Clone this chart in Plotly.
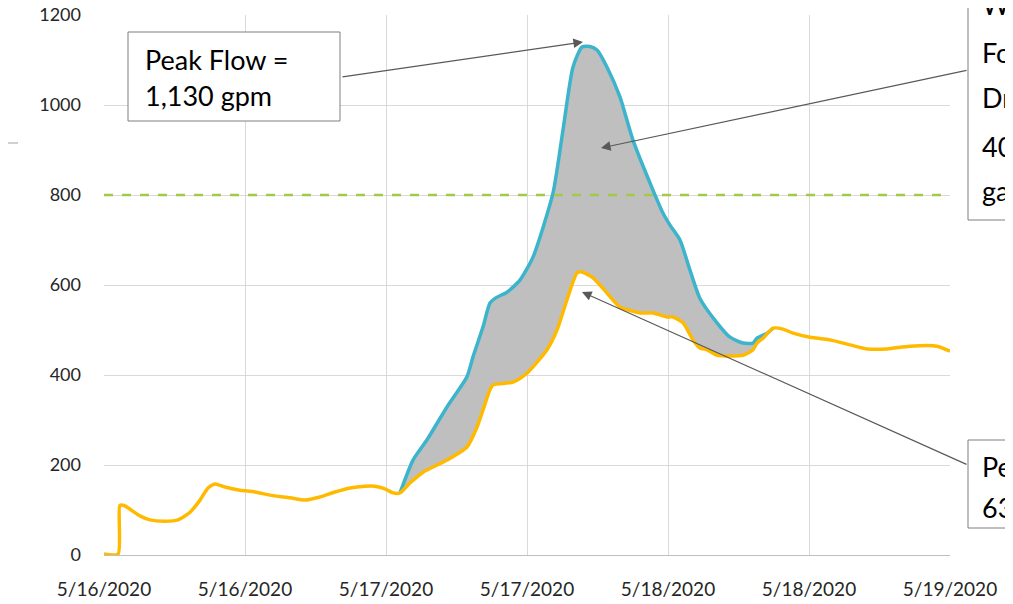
import pandas as pd
import plotly.graph_objects as go

BASE = pd.Timestamp("2020-05-16 00:00")

# Observed flow (yellow): hours since 5/16/2020 00:00, gpm
flow_hours = [0, 1.2, 1.35, 1.7, 3.06, 3.91, 5.19, 6.3, 7.32, 8.17, 8.85, 9.45, 10.3, 11.57,
              12.85, 14.13, 15.83, 17.11, 18.38, 19.66, 20.94, 22.21, 23.06, 23.91, 24.6,
              25.19, 26.04, 27.15, 29.19, 30.89, 31.74, 32.85, 33.11, 34.81, 36.0, 37.7,
              38.55, 39.4, 40.26, 40.68, 41.62, 42.81, 43.91, 45.62, 46.72, 47.91, 48.43,
              49.28, 50.13, 50.72, 51.32, 52.17, 54.38, 55.23, 55.57, 56.09, 56.94, 57.79,
              58.64, 60.09, 61.79, 63.49, 64.94, 66.64, 68.6, 70.89, 72.0]
flow_gpm = [2, 2, 110, 110, 87, 78, 75, 78, 95, 122, 149, 158, 151, 144,
            140, 133, 127, 122, 129, 140, 149, 153, 153, 147, 138,
            138, 160, 184, 211, 240, 284, 367, 378, 384, 404, 456,
            500, 567, 627, 629, 616, 582, 551, 538, 538, 529, 529,
            516, 478, 460, 456, 444, 444, 456, 471, 482, 504, 502,
            493, 484, 478, 467, 458, 458, 464, 464, 453]

# Total flow with wet weather (blue)
wet_hours = [25.19, 26.3, 27.49, 29.19, 30.89, 31.4, 32.26, 32.85, 33.45, 34.3, 35.4,
             36.51, 38.21, 39.06, 39.91, 40.68, 41.36, 41.96, 42.81, 43.91, 45.02, 46.72,
             47.57, 48.17, 49.02, 49.87, 50.72, 52.17, 53.28, 54.38, 55.23, 55.57, 56.43, 56.94]
wet_gpm = [138, 211, 256, 329, 396, 440, 507, 560, 573, 584, 611,
           662, 804, 944, 1084, 1129, 1130, 1122, 1084, 1018, 922, 811,
           760, 733, 700, 633, 570, 516, 484, 471, 471, 482, 493, 504]

threshold_gpm = 800
tick_hours = [0, 12, 24, 36, 48, 60, 72]
y_ticks = [0, 200, 400, 600, 800, 1000, 1200]

def to_time(hours):
    return [BASE + pd.Timedelta(hours=h) for h in hours]

flow_t = to_time(flow_hours)
wet_t = to_time(wet_hours)

# fill base: observed flow over the wet-weather window
lo, hi = wet_hours[0], wet_hours[-1]
base_h = [h for h in flow_hours if lo <= h <= hi]
base_v = [v for h, v in zip(flow_hours, flow_gpm) if lo <= h <= hi]

YELLOW = "#FFBA00"
BLUE = "#3CB4CC"
GRAY_FILL = "#BFBFBF"
GREEN = "#A3C94A"
ARROW = "#595959"
FONT = "Lato"
SMOOTH = 0.6

# page offset (browser body margin) and plot box in screen pixels
OFF = 8
PL, PR, PT, PB = 104, 950, 15, 555
FW, FH = 1005, 596

fig = go.Figure()
fig.add_trace(go.Scatter(x=to_time(base_h), y=base_v, mode="lines",
                         line=dict(width=0, color=YELLOW, shape="spline", smoothing=SMOOTH),
                         showlegend=False, hoverinfo="skip"))
fig.add_trace(go.Scatter(x=wet_t, y=wet_gpm, mode="lines", fill="tonexty", fillcolor=GRAY_FILL,
                         line=dict(color=BLUE, width=3.5, shape="spline", smoothing=SMOOTH),
                         showlegend=False))
fig.add_trace(go.Scatter(x=flow_t, y=flow_gpm, mode="lines",
                         line=dict(color=YELLOW, width=3.5, shape="spline", smoothing=SMOOTH),
                         showlegend=False))

fig.add_hline(y=threshold_gpm, line=dict(color=GREEN, width=2.5, dash="dash"))

W_PLOT, H_PLOT = float(PR - PL), float(PB - PT)
def px(xp):
    return (xp - PL) / W_PLOT
def py(yp):
    return (PB - yp) / H_PLOT

shapes = [
    dict(type="rect", xref="paper", yref="paper", x0=px(128), x1=px(340), y0=py(121), y1=py(32),
         line=dict(color="#7F7F7F", width=1), fillcolor="white", layer="above"),
    dict(type="rect", xref="paper", yref="paper", x0=px(968), x1=px(1060), y0=py(220), y1=py(-20),
         line=dict(color="#7F7F7F", width=1), fillcolor="white", layer="above"),
    dict(type="rect", xref="paper", yref="paper", x0=px(968), x1=px(1060), y0=py(528), y1=py(440),
         line=dict(color="#7F7F7F", width=1), fillcolor="white", layer="above"),
    dict(type="line", xref="paper", yref="paper", x0=px(0), x1=px(18), y0=py(143), y1=py(143),
         line=dict(color="#D0D0D0", width=2)),
]
for s in shapes:
    fig.add_shape(**s)

ann = []
for hx, hy, tx, ty in [(583, 42, 341, 77), (601, 148, 968, 70), (582, 292, 968, 465)]:
    ann.append(dict(xref="paper", yref="paper", x=px(hx), y=py(hy), text="", showarrow=True,
                    ax=tx - hx, ay=ty - hy, arrowhead=2, arrowsize=1.6, arrowwidth=1.2,
                    arrowcolor=ARROW))
def line(text, x, y, size):
    return dict(xref="paper", yref="paper", x=px(x), y=py(y), text=text, showarrow=False,
                xanchor="left", yanchor="middle", font=dict(family=FONT, size=size, color="#000000"))
ann.append(line("Peak Flow =", 143, 59, 27))
ann.append(line("1,130 gpm", 143, 95, 27))
for t, yy in zip(["Wet Weather", "For the Storm", "Drainage =", "400,000", "gallons"],
                 [5, 52, 98, 146, 190]):
    ann.append(line(t, 980, yy, 27))
for t, yy in zip(["Peak Flow =", "630 gpm"], [466, 507]):
    ann.append(line(t, 980, yy, 27))
for a in ann:
    fig.add_annotation(**a)

fig.update_layout(
    width=FW, height=FH,
    margin=dict(l=PL - OFF, r=FW + OFF - PR, t=PT - OFF, b=FH + OFF - PB, autoexpand=False),
    paper_bgcolor="white", plot_bgcolor="white",
    font=dict(family=FONT, color="#262626"),
    showlegend=False,
)
fig.update_xaxes(
    type="date", range=[BASE, BASE + pd.Timedelta(hours=72)],
    tickvals=to_time(tick_hours), tickformat="%-m/%-d/%Y",
    tickfont=dict(family=FONT, size=19, color="#262626"),
    showgrid=True, gridcolor="#D9D9D9", gridwidth=1,
    showline=True, linecolor="#BFBFBF", linewidth=1,
    zeroline=False, ticks="", ticklabelstandoff=17, automargin=False,
    ticklabeloverflow="allow",
)
fig.update_yaxes(
    range=[0, 1200], tickvals=y_ticks,
    tickfont=dict(family=FONT, size=18, color="#262626"),
    showgrid=True, gridcolor="#D9D9D9", gridwidth=1,
    showline=False, zeroline=False, ticks="", ticklabelstandoff=22, automargin=False,
    ticklabeloverflow="allow",
)

fig.write_html("out.html")
